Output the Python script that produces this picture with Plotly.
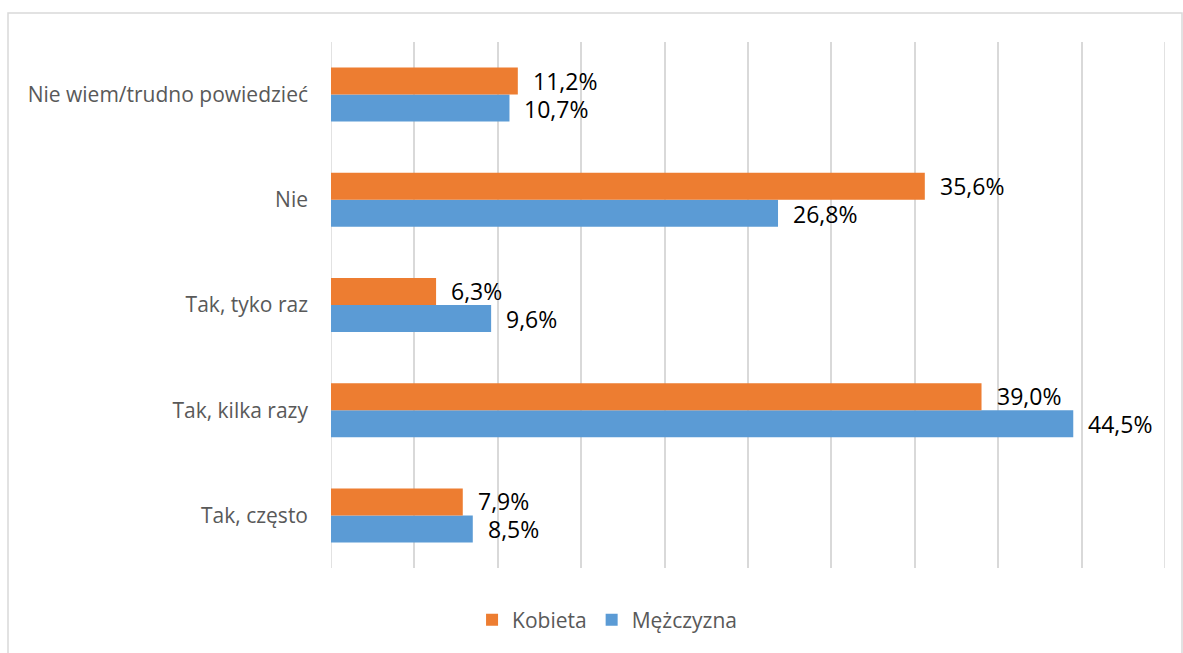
import plotly.graph_objects as go

categories = ["Tak, często", "Tak, kilka razy", "Tak, tyko raz", "Nie", "Nie wiem/trudno powiedzieć"]
kobieta = [7.9, 39.0, 6.3, 35.6, 11.2]
mezczyzna = [8.5, 44.5, 9.6, 26.8, 10.7]
x_ticks = [0, 5, 10, 15, 20, 25, 30, 35, 40, 45, 50]

ORANGE = "#ED7D31"
BLUE = "#5B9BD5"
FONT = "Open Sans"

def fmt(v):
    return f"{v:.1f}%".replace(".", ",")

fig = go.Figure()
fig.add_trace(go.Bar(
    y=categories, x=mezczyzna, name="Mężczyzna", orientation="h",
    marker=dict(color=BLUE, line=dict(width=0)), legendrank=2,
    hoverinfo="x+name",
))
fig.add_trace(go.Bar(
    y=categories, x=kobieta, name="Kobieta", orientation="h",
    marker=dict(color=ORANGE, line=dict(width=0)), legendrank=1,
    hoverinfo="x+name",
))

# data labels (annotations so they are not shrunk to bar thickness)
for series, dy in ((kobieta, 14), (mezczyzna, -14)):
    for cat, v in zip(categories, series):
        fig.add_annotation(x=v, y=cat, xref="x", yref="y", text=fmt(v),
                           showarrow=False, xanchor="left", yanchor="middle",
                           xshift=14, yshift=dy, borderpad=0,
                           font=dict(family=FONT, size=23, color="#000000"))

fig.update_layout(
    width=1183, height=653,
    barmode="group", bargap=0.487, bargroupgap=0,
    paper_bgcolor="white", plot_bgcolor="white",
    margin=dict(l=331, r=18, t=42, b=85, autoexpand=False),
    font=dict(family=FONT, color="#595959", size=21),
    showlegend=True,
    legend=dict(orientation="h", x=0.331, xanchor="center", y=-0.099, yanchor="middle",
                font=dict(family=FONT, size=21, color="#595959"),
                traceorder="normal", itemwidth=30),
    xaxis=dict(range=[0, 50], tickvals=x_ticks, showticklabels=False,
               showgrid=True, gridcolor="#D9D9D9", gridwidth=1.5,
               zeroline=False, showline=False, fixedrange=True),
    yaxis=dict(categoryorder="array", categoryarray=categories,
               showgrid=False, zeroline=False, showline=False,
               ticklabelstandoff=22,
               tickfont=dict(family=FONT, size=21, color="#595959")),
)

# outer chart frame
px_w = 1183 - 331 - 18
px_h = 653 - 42 - 85
fig.add_shape(type="rect", xref="paper", yref="paper",
              x0=(8 - 331) / px_w, x1=(1182 - 331) / px_w,
              y0=-(700 - 568) / px_h, y1=(568 - 13) / px_h,
              line=dict(color="#D9D9D9", width=1.5), fillcolor="rgba(0,0,0,0)", layer="below")
# gridlines at the range edges (plotly hides them)
fig.add_vline(x=x_ticks[0], line=dict(color="#D9D9D9", width=1.5), layer="below")
fig.add_vline(x=x_ticks[-1], line=dict(color="#D9D9D9", width=1.5), layer="below")

fig.write_html("out.html", config={"displayModeBar": False},
               post_script="document.body.style.margin='0';")
